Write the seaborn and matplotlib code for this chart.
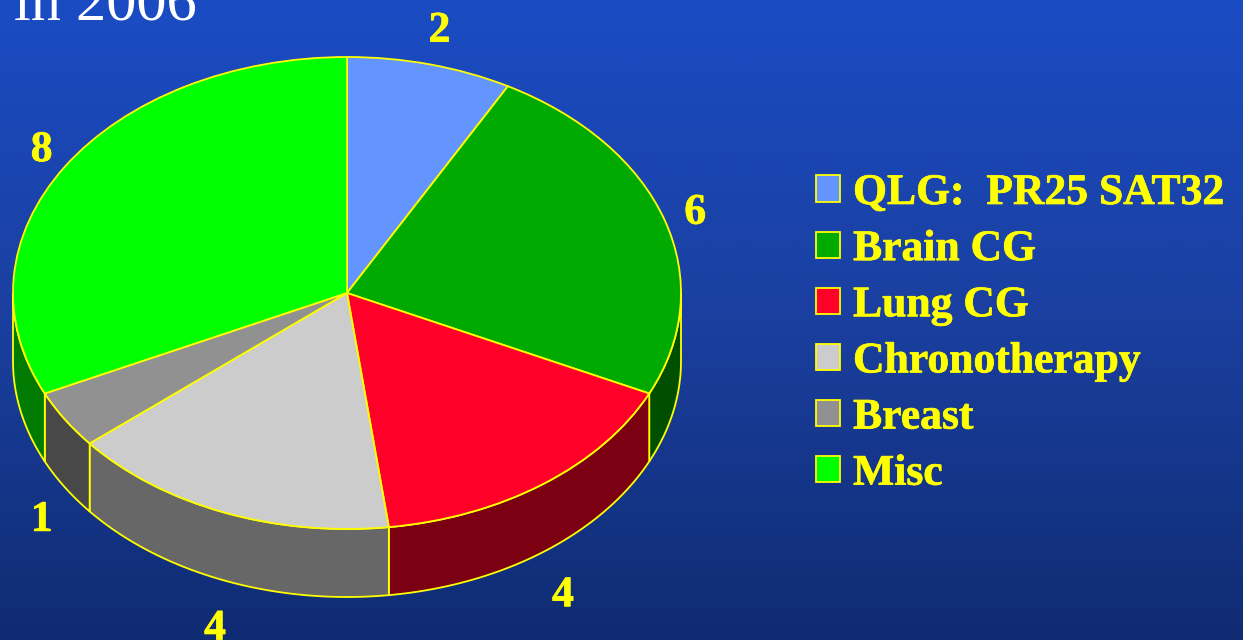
import numpy as np
import matplotlib
matplotlib.use("Agg")
import matplotlib.pyplot as plt
import matplotlib.patheffects as pe
import seaborn as sns

# slices, clockwise from the top
categories = ["QLG:  PR25 SAT32", "Brain CG", "Lung CG", "Chronotherapy", "Breast", "Misc"]
counts = [2, 6, 4, 4, 1, 8]
top_colors = ["#6495ff", "#00aa00", "#ff0029", "#cccccc", "#919191", "#00ff00"]
side_colors = ["#324a80", "#004f00", "#7a0012", "#676767", "#484848", "#007a00"]
title_text = "in 2006"

sns.set_theme(style="white")
plt.rcParams["font.family"] = ["Liberation Serif", "DejaVu Serif"]

W, H = 1243, 640
YELLOW = "#ffff00"
# ellipse in pixels
cx, cy, rx, ry = 347, 293, 334, 236
depth = 68 / ry

fig = plt.figure(figsize=(W / 100, H / 100), dpi=100)
ax = fig.add_axes([0, 0, 1, 1])

wedges, _ = ax.pie(counts, radius=1, startangle=90, counterclock=False,
                   colors=top_colors,
                   wedgeprops=dict(edgecolor=YELLOW, linewidth=1.3, zorder=3))

# axes units are radii, so the round pie gets squashed into the ellipse
xlim = (-cx / rx, (W - cx) / rx)
ylim = (-(H - cy) / ry, cy / ry)
ax.set_aspect("auto")
ax.set_xlim(xlim)
ax.set_ylim(ylim)
ax.axis("off")

# background gradient
cmap = sns.blend_palette(["#1a4cc4", "#1a3f9f", "#0f2b72"], as_cmap=True)
ax.imshow(np.linspace(0, 1, 256)[:, None], cmap=cmap, extent=(*xlim, *ylim),
          aspect="auto", origin="upper", zorder=0)

# side wall, front half only
edges = np.cumsum([0] + counts) / sum(counts) * 360
for i in range(len(counts)):
    a0, a1 = max(edges[i], 90), min(edges[i + 1], 270)
    if a1 <= a0:
        continue
    t = np.radians(np.linspace(a0, a1, 80))
    x, y = np.sin(t), np.cos(t)
    ax.fill(np.r_[x, x[::-1]], np.r_[y, y[::-1] - depth], facecolor=side_colors[i],
            edgecolor=YELLOW, linewidth=1.3, zorder=2)

# thicker strokes, the original text is heavier than Liberation bold
heavy = [pe.withStroke(linewidth=0.5, foreground=YELLOW)]

# value labels around the rim, a fixed pixel gap outside it
mids = np.radians((edges[:-1] + edges[1:]) / 2)
for v, t in zip(counts, mids):
    lx = np.sin(t) * (1 + 30 / rx) + 2 / rx
    ly = np.cos(t) * (1 + 40 / ry) - 5 / ry
    if np.cos(t) < 0:
        ly -= depth + 6 / ry
    ax.text(lx, ly, str(v), color=YELLOW, fontsize=31.4, fontweight="bold",
            ha="center", va="center", zorder=4, path_effects=heavy)

fig.text(14 / W, 1 - 20 / H, title_text, color="white", fontsize=43.5,
         ha="left", va="baseline")

leg = ax.legend(wedges, categories, loc="upper left",
                bbox_to_anchor=(816 / W, 1 - 173 / H), bbox_transform=fig.transFigure,
                frameon=False, prop=dict(family="Liberation Serif", weight="bold", size=31.4),
                labelcolor=YELLOW, handlelength=0.56, handleheight=0.55,
                handletextpad=0.29, labelspacing=0.37, borderpad=0, borderaxespad=0)
leg.set_zorder(5)
for txt in leg.get_texts():
    txt.set_path_effects(heavy)

fig.savefig("out.png", dpi=100)
